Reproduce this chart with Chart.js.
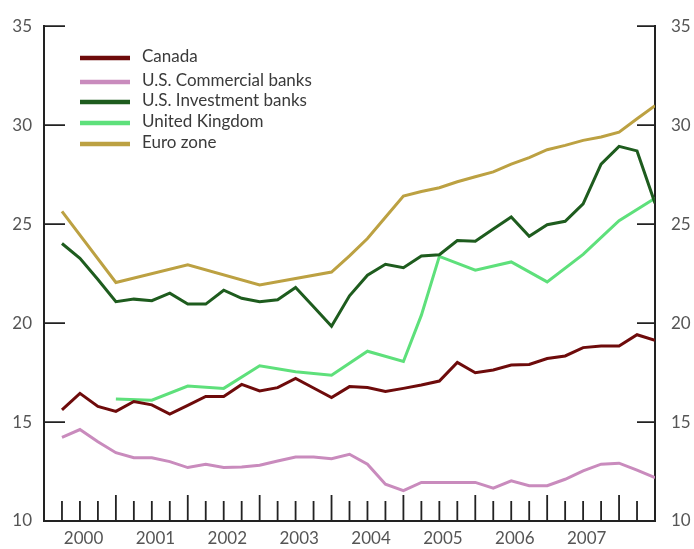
<!DOCTYPE html>
<html>
<head>
<meta charset="utf-8">
<script src="https://cdn.jsdelivr.net/npm/chart.js@4.4.1/dist/chart.umd.min.js"></script>
<style>
  body { margin: 0; background: #fff; }
  #wrap { width: 694px; height: 549px; }
</style>
</head>
<body>
<div id="wrap"><canvas id="myChart"></canvas></div>
<script>
// quarterly observations, 2000Q1 .. 2008Q2
const quarters = [];
for (let yr = 2000; yr <= 2008; yr++) {
    for (let q = 1; q <= 4; q++) quarters.push(yr + 'Q' + q);
}
quarters.length = 34;

const years = ['2000', '2001', '2002', '2003', '2004', '2005', '2006', '2007'];
const yTicks = [10, 15, 20, 25, 30, 35];

const canada = [15.62, 16.45, 15.79, 15.54, 16.04, 15.87, 15.40, 15.84, 16.29, 16.29,
    16.90, 16.57, 16.74, 17.20, 16.72, 16.24, 16.79, 16.74, 16.54, 16.70,
    16.87, 17.07, 18.01, 17.49, 17.63, 17.88, 17.91, 18.21, 18.34, 18.76,
    18.84, 18.84, 19.41, 19.13];
const usCommercial = [14.23, 14.62, 14.00, 13.45, 13.20, 13.20, 13.00, 12.70, 12.87, 12.70,
    12.73, 12.82, 13.03, 13.23, 13.23, 13.15, 13.37, 12.87, 11.86, 11.53,
    11.95, 11.95, 11.95, 11.95, 11.66, 12.03, 11.78, 11.78, 12.11, 12.53,
    12.87, 12.92, 12.57, 12.19];
const usInvestment = [24.02, 23.27, 22.20, 21.08, 21.21, 21.13, 21.51, 20.96, 20.96, 21.66,
    21.25, 21.08, 21.18, 21.80, 20.83, 19.84, 21.38, 22.42, 22.97, 22.80,
    23.39, 23.45, 24.17, 24.14, 24.75, 25.36, 24.39, 24.97, 25.14, 26.02,
    28.03, 28.93, 28.70, 26.06];
const unitedKingdom = [null, null, null, 16.17, null, 16.10, null, 16.82, null, 16.70,
    null, 17.84, null, 17.54, null, 17.37, null, 18.58, null, 18.06,
    20.40, 23.37, null, 22.67, null, 23.09, null, 22.08, null, 23.47,
    null, 25.17, null, 26.31];
const euroZone = [25.64, null, null, 22.05, null, null, null, 22.94, null, null,
    null, 21.93, null, null, null, 22.58, 23.40, 24.27, 25.35, 26.42,
    26.65, 26.84, 27.14, 27.39, 27.64, 28.03, 28.36, 28.76, 28.98, 29.23,
    29.40, 29.65, 30.32, 30.98];

const series = [
    { label: 'Canada', values: canada, color: '#6e0b0b' },
    { label: 'U.S. Commercial banks', values: usCommercial, color: '#c98bbd' },
    { label: 'U.S. Investment banks', values: usInvestment, color: '#1e5c1e' },
    { label: 'United Kingdom', values: unitedKingdom, color: '#5ee07b' },
    { label: 'Euro zone', values: euroZone, color: '#bca142' }
];

const FONT = "Lato, 'Open Sans', sans-serif";

const innerTicks = {
    id: 'innerTicks',
    beforeDatasetsDraw(chart) {
        const ctx = chart.ctx;
        const a = chart.chartArea;
        const x = chart.scales.x, y = chart.scales.y;
        ctx.save();
        ctx.strokeStyle = '#222';
        ctx.lineWidth = 1.8;
        ctx.beginPath();
        for (let i = 0; i < quarters.length - 1; i++) {
            const px = x.getPixelForValue(i);
            const len = i % 4 === 3 ? 26 : 20;
            ctx.moveTo(px, a.bottom);
            ctx.lineTo(px, a.bottom - len);
        }
        yTicks.slice(1).forEach(v => {
            const py = y.getPixelForValue(v);
            ctx.moveTo(a.left, py);
            ctx.lineTo(a.left + 21, py);
            ctx.moveTo(a.right, py);
            ctx.lineTo(a.right - 18, py);
        });
        ctx.stroke();
        ctx.restore();
    }
};

const legendBox = {
    id: 'legendBox',
    afterDraw(chart) {
        const ctx = chart.ctx;
        const rows = [58, 82, 102, 123, 144];
        ctx.save();
        ctx.font = '17px ' + FONT;
        ctx.textBaseline = 'middle';
        chart.data.datasets.forEach((ds, i) => {
            ctx.strokeStyle = ds.borderColor;
            ctx.lineWidth = 4.5;
            ctx.beginPath();
            ctx.moveTo(80, rows[i]);
            ctx.lineTo(130, rows[i]);
            ctx.stroke();
            ctx.fillStyle = '#3a3a3a';
            ctx.fillText(ds.label, 142, rows[i] - 1);
        });
        ctx.restore();
    }
};

const yAxis = (pos, w, pad) => ({
    position: pos,
    min: 10,
    max: 35,
    grid: { display: false, drawTicks: false },
    border: { display: true, color: '#222', width: 2 },
    ticks: {
        stepSize: 5,
        color: '#555',
        padding: pad,
        font: { family: FONT, size: 17 }
    },
    afterFit: s => { s.width = w; }
});

new Chart(document.getElementById('myChart'), {
    type: 'line',
    data: {
        datasets: series.map(s => ({
            label: s.label,
            data: s.values.map((v, i) => ({ x: i, y: v })),
            borderColor: s.color,
            backgroundColor: s.color,
            borderWidth: 3,
            pointRadius: 0,
            tension: 0,
            spanGaps: true
        }))
    },
    options: {
        responsive: true,
        maintainAspectRatio: false,
        animation: false,
        layout: { padding: { top: 22 } },
        plugins: {
            legend: { display: false },
            tooltip: { enabled: false }
        },
        scales: {
            x: {
                type: 'linear',
                min: -1,
                max: quarters.length - 1,
                grid: { display: false, drawTicks: false },
                border: { display: true, color: '#222', width: 2 },
                afterBuildTicks: s => { s.ticks = years.map((yr, k) => ({ value: 4 * k + 1.2 })); },
                ticks: {
                    autoSkip: false,
                    maxRotation: 0,
                    color: '#555',
                    padding: 7,
                    font: { family: FONT, size: 17 },
                    callback: (v, i) => years[i]
                },
                afterFit: s => { s.height = 28; }
            },
            y: yAxis('left', 44, 12),
            y2: yAxis('right', 39, 16)
        }
    },
    plugins: [innerTicks, legendBox]
});
</script>
</body>
</html>
